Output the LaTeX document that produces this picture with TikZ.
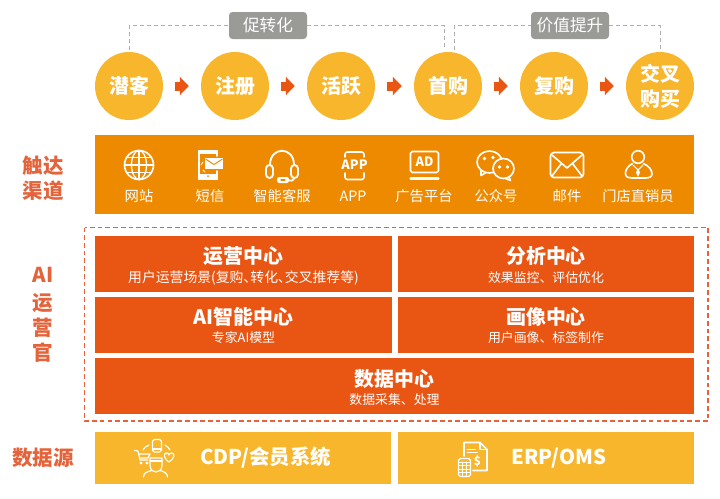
\documentclass[tikz,border=0pt]{standalone}
\usepackage{fontspec}
\setmainfont{Noto Sans CJK SC}
\newfontfamily\tightcjk[RawFeature=+palt]{Noto Sans CJK SC}
\usepackage{xcolor}
\usetikzlibrary{arrows.meta,positioning,calc}
\definecolor{stageyellow}{HTML}{F8B62D}
\definecolor{channelorange}{HTML}{EE8A00}
\definecolor{hubred}{HTML}{E95513}
\definecolor{sidered}{HTML}{E5633A}
\definecolor{taggrey}{HTML}{9A9A96}
\tikzset{
  stagenode/.style={circle,fill=stageyellow,text=white,minimum size=2.04cm,inner sep=0pt,align=center,font=\fontsize{17}{21.3}\selectfont\bfseries},
  flowarrow/.style={draw=hubred,line width=.27cm,shorten <=.36cm,shorten >=.36cm,-{Triangle[length=.27cm,width=.54cm,color=hubred]}},
  tagnode/.style={rectangle,rounded corners=3pt,fill=taggrey,text=white,minimum width=2.34cm,minimum height=.81cm,inner sep=0pt,font=\fontsize{14.2}{16}\selectfont},
  guideline/.style={draw=taggrey!80,line width=.7pt,dash pattern=on 3.4pt off 2.6pt},
  channelbar/.style={rectangle,fill=channelorange,minimum width=17.97cm,minimum height=2.37cm,inner sep=0pt},
  hubbox/.style={rectangle,fill=hubred,minimum width=8.9cm,minimum height=1.68cm,inner sep=0pt},
  hubtitle/.style={text=white,inner sep=0pt,font=\fontsize{17}{20}\selectfont\bfseries},
  hubsub/.style={text=white,inner sep=0pt,font=\fontsize{11}{13}\selectfont},
  sourcebox/.style={rectangle,fill=stageyellow,minimum width=8.9cm,minimum height=1.56cm,inner sep=0pt},
  sourcetext/.style={text=white,inner sep=0pt,font=\fontsize{17.4}{20}\selectfont\bfseries},
  sidelabel/.style={text=sidered,inner sep=0pt,align=center,font=\fontsize{17.5}{21.3}\selectfont\bfseries},
  channeltext/.style={text=white,inner sep=0pt,font=\fontsize{12.2}{14}\selectfont},
  iconline/.style={draw=white,line width=1.4pt,line cap=round,line join=round},
  iconfill/.style={fill=white,draw=none},
}
\begin{document}
\begin{tikzpicture}[x=.03cm,y=-.03cm]
  \useasboundingbox (0,0) rectangle (720,499);

  % funnel stages
  \node[stagenode] (qianke) at (129,86) {潜客};
  \node[stagenode] (zhuce) at (235,86) {注册};
  \node[stagenode] (huoyue) at (341,86) {活跃};
  \node[stagenode] (shougou) at (448,86) {首购};
  \node[stagenode] (fugou) at (554,86) {复购};
  \node[stagenode] (jiaocha) at (660,86) {交叉\\购买};
  \draw[flowarrow] (qianke.east) -- (zhuce.west);
  \draw[flowarrow] (zhuce.east) -- (huoyue.west);
  \draw[flowarrow] (huoyue.east) -- (shougou.west);
  \draw[flowarrow] (shougou.east) -- (fugou.west);
  \draw[flowarrow] (fugou.east) -- (jiaocha.west);

  \node[tagnode] (tagA) at (268,25.5) {促转化};
  \node[tagnode] (tagB) at (570,25.5) {价值提升};
  \coordinate (tagAend) at (444,50);
  \coordinate (tagBstart) at (454,50);
  \coordinate (tagAstart) at (129,50);
  \coordinate (tagBend) at (660,50);
  \draw[guideline] (tagAstart) |- (tagA.west);
  \draw[guideline] (tagA.east) -| (tagAend);
  \draw[guideline] (tagBstart) |- (tagB.west);
  \draw[guideline] (tagB.east) -| (tagBend);

  % channels
  \node[sidelabel] (chuda) at (43,178.5) {触达\\渠道};
  \node[channelbar] (channels) at (394.5,174.5) {};
  \node[channeltext] (wangzhan) at (139,196) {网站};
  \node[channeltext] (duanxin) at (210,196) {短信};
  \node[channeltext] (kefu) at (282,196) {智能客服};
  \node[channeltext] (app) at (353,196) {APP};
  \node[channeltext] (guanggao) at (424,196) {广告平台};
  \node[channeltext] (gongzhong) at (496,196) {公众号};
  \node[channeltext] (youjian) at (567,196) {邮件};
  \node[channeltext] (mendian) at (638,196) {门店直销员};

  % globe
  \draw[iconline] (139,165) circle (14.5);
  \draw[iconline,line width=1.1pt] (139,165) ellipse (7.5 and 14.5);
  \draw[iconline,line width=1.1pt] (139,150.5) -- (139,179.5);
  \draw[iconline,line width=1.1pt] (124.5,165) -- (153.5,165);
  \draw[iconline,line width=1.1pt] (127,157.5) -- (151,157.5);
  \draw[iconline,line width=1.1pt] (127,172.5) -- (151,172.5);

  % phone with envelope
  \draw[iconline] (217,156) -- (217,152.5) -- (199,152.5) -- (199,178.5) -- (217,178.5) -- (217,171);
  \fill[iconfill] (198,150) rectangle (218,154);
  \fill[iconfill] (198,173.5) rectangle (218,180);
  \fill[channelorange] (208,176.2) circle (1);
  \fill[iconfill] (205,158) rectangle (223,169);
  \draw[channelorange,line width=.8pt] (205.5,159) -- (214,164.5) -- (222.5,159);
  \draw[iconline,line width=.7pt] (203,162) -- (201,165) (203,170) -- (205,172);

  % headset
  \draw[iconline,line width=1.6pt] (270,165) .. controls (270,146) and (294,146) .. (294,165);
  \draw[iconline,line width=1.6pt,rounded corners=3pt] (266,165) rectangle (273,178);
  \draw[iconline,line width=1.6pt,rounded corners=3pt] (291,165) rectangle (298,178);
  \draw[iconline,line width=1.6pt] (294.5,178) .. controls (294,181) and (291,181) .. (288,180.5);
  \fill[iconfill,rounded corners=2pt] (277,177) rectangle (289,183);
  \fill[channelorange,rounded corners=1pt] (280,179.2) rectangle (286,180.8);

  % app
  \draw[iconline,rounded corners=2pt] (345,157) -- (345,152) -- (364,152) -- (364,157);
  \draw[iconline,rounded corners=2pt] (345,173) -- (345,179.5) -- (364,179.5) -- (364,173);
  \node[text=white,inner sep=0pt,font=\fontsize{11}{12}\selectfont\bfseries] (appicon) at (354.5,165) {APP};

  % ad
  \draw[iconline,rounded corners=1.5pt] (410.5,151.5) rectangle (438.5,172.5);
  \node[text=white,inner sep=0pt,font=\fontsize{11}{12}\selectfont\bfseries] (adicon) at (424.5,162) {AD};
  \draw[iconline,line width=1.8pt] (410.5,178.5) -- (438.5,178.5);

  % wechat
  \draw[iconline] (489.5,162) ellipse (12.5 and 11);
  \draw[iconline,fill=channelorange] (503.5,168.5) ellipse (10.5 and 10);
  \draw[iconline] (481,171) -- (481,175.5) -- (486,172.5);
  \draw[iconline] (509,177) -- (510.5,180.5) -- (505.5,178.5);
  \fill[iconfill] (484.5,158.5) circle (1.8);
  \fill[iconfill] (493,157.5) circle (1.8);
  \fill[iconfill] (499.5,167) circle (1.8);
  \fill[iconfill] (507.5,167) circle (1.8);

  % mail
  \draw[iconline,rounded corners=3pt] (550.5,152.5) rectangle (583.5,177.5);
  \draw[iconline] (552,155) -- (567,168) -- (582,155);
  \draw[iconline] (552,176) -- (561.5,163.5);
  \draw[iconline] (582,176) -- (572.5,163.5);

  % shop assistant
  \draw[iconline] (638,157) circle (6.3);
  \draw[iconline] (632.5,163.5) .. controls (628,166) and (625,170) .. (625.5,174) .. controls (626,177.5) and (629,178) .. (632,178) -- (645,178) .. controls (649,178) and (652,177) .. (652,174) .. controls (652,170) and (649,166) .. (643.5,163.5);
  \draw[iconline,line width=.9pt] (633,165) -- (638,170) -- (643,165);
  \fill[iconfill] (638,168) -- (640,172.5) -- (638,177) -- (636,172.5) -- cycle;

  % ai operations
  \node[sidelabel,align=center] (ailabel) at (43,275) {AI};
  \node[sidelabel] (yun) at (43,303) {运};
  \node[sidelabel] (ying) at (43,328) {营};
  \node[sidelabel] (guan) at (43,353) {官};
  \draw[sidered,line width=.9pt,dash pattern=on 4pt off 2.6pt] (84.5,227.5) rectangle (708,421);
  \node[hubbox] (opsbox) at (243.5,264) {};
  \node[hubtitle] (opstitle) at (243.5,256) {运营中心};
  \node[hubsub,font=\fontsize{11.8}{13}\tightcjk] (opssub) at (243.5,278) {用户运营场景(复购、转化、交叉推荐等)};
  \node[hubbox] (analysisbox) at (546,264) {};
  \node[hubtitle] (analysistitle) at (546,256) {分析中心};
  \node[hubsub] (analysissub) at (546,278) {效果监控、评估优化};
  \node[hubbox] (aibox) at (243.5,325) {};
  \node[hubtitle] (aititle) at (243.5,317) {AI智能中心};
  \node[hubsub] (aisub) at (243.5,338) {专家AI模型};
  \node[hubbox] (portraitbox) at (546,325) {};
  \node[hubtitle] (portraittitle) at (546,317) {画像中心};
  \node[hubsub] (portraitsub) at (546,338) {用户画像、标签制作};
  \node[hubbox,minimum width=17.97cm] (databox) at (394.5,385.5) {};
  \node[hubtitle] (datatitle) at (394.5,379) {数据中心};
  \node[hubsub] (datasub) at (394.5,400) {数据采集、处理};

  % data sources
  \node[sidelabel] (shuju) at (43,458) {数据源};
  \node[sourcebox] (cdpbox) at (243,458) {};
  \node[sourcetext] (cdptext) at (265.5,458) {CDP/会员系统};
  \node[sourcebox] (erpbox) at (546,458) {};
  \node[sourcetext] (erptext) at (559,458) {ERP/OMS};

  % cdp icon
  \draw[iconline,line width=1pt,rounded corners=1.5pt] (152.5,439.5) rectangle (161.5,452);
  \draw[iconline,line width=1pt] (152.5,449) -- (161.5,449);
  \draw[iconline,line width=1pt] (149,445) .. controls (146,446) and (144,448) .. (143,450);
  \draw[iconline,line width=1pt] (165,445) .. controls (167,446) and (169,448) .. (170,450);
  \draw[iconline,line width=1pt] (134.5,450.5) -- (138,451) -- (140,460) -- (148,460);
  \draw[iconline,line width=1pt] (138.5,454) -- (150,454) -- (148,458) -- (139.5,458);
  \draw[iconline,line width=1pt] (141,463) circle (.9) (147,463) circle (.9);
  \draw[iconline,line width=1pt] (169,462) .. controls (163,458) and (163.5,453) .. (166.5,453) .. controls (168,453) and (169,454) .. (169,455) .. controls (169,454) and (170.5,453) .. (171.5,453) .. controls (175,453) and (175,458) .. (169,462);
  \draw[iconline,line width=1pt] (150,458) -- (162,458) -- (162,465) .. controls (162,470) and (159,472) .. (156,472) .. controls (153,472) and (150,470) .. (150,465) -- cycle;
  \draw[iconline,line width=1pt] (150,461) -- (162,461);
  \draw[iconline,line width=1pt] (143.5,477) .. controls (143.5,473) and (147,471.5) .. (152,470.5);
  \draw[iconline,line width=1pt] (167.5,477) .. controls (167.5,473) and (164,471.5) .. (160,470.5);

  % erp icon
  \draw[iconline,line width=1.3pt] (464,456) -- (464,442.5) -- (480,442.5) -- (487,449.5) -- (487,470.5) -- (473,470.5);
  \draw[iconline,line width=1pt] (480,443) -- (480,449.5) -- (486.5,449.5);
  \draw[iconline,line width=1.3pt] (467.5,449.5) -- (475,449.5);
  \draw[iconline,line width=1.3pt] (467.5,452.5) -- (477,452.5);
  \node[text=white,inner sep=0pt,font=\fontsize{10}{11}\selectfont\bfseries] (dollar) at (477.5,461.5) {\$};
  \draw[iconline,line width=1.2pt,rounded corners=1.5pt] (458.5,458.5) rectangle (470.5,476.5);
  \draw[iconline,line width=.6pt] (458.5,462) -- (470.5,462) (458.5,465.5) -- (470.5,465.5) (458.5,469) -- (470.5,469) (458.5,472.5) -- (470.5,472.5) (462.5,462) -- (462.5,476.5) (466.5,462) -- (466.5,476.5);
\end{tikzpicture}
\end{document}
